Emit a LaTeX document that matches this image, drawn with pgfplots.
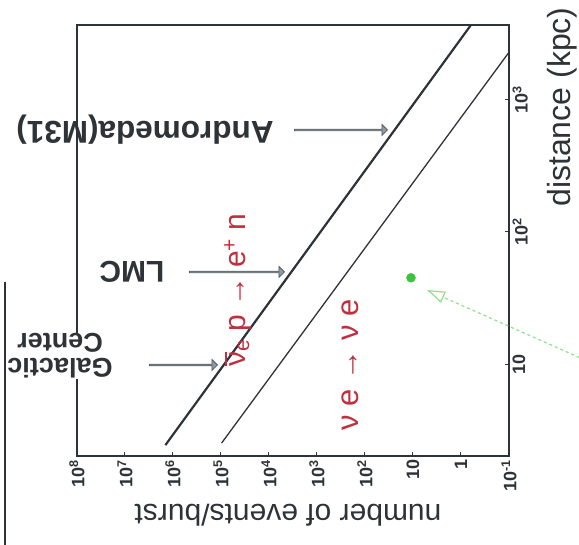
\documentclass[border=0pt]{standalone}
\usepackage{fontspec}
\setmainfont{Liberation Sans}
\usepackage{pgfplots}
\pgfplotsset{compat=1.18}
\usetikzlibrary{shapes.arrows, arrows.meta}

\definecolor{ink}{HTML}{2E3338}
\definecolor{redlbl}{HTML}{C0303C}
\definecolor{arrowfill}{HTML}{8C9AA4}
\definecolor{sngreen}{HTML}{3CC43C}
\definecolor{ptgreen}{HTML}{8EE08E}

\newcommand{\nubar}{\makebox[0pt][l]{\hspace{0.03em}\raisebox{0.62em}{\rule{0.45em}{0.05em}}}ν}

\begin{document}
\begin{tikzpicture}
\useasboundingbox (0,0) rectangle (579pt,545pt);

% stray frame edge on the left
\draw[ink, line width=2.5pt] (5pt,0pt) -- (5pt,263pt);

\begin{axis}[
  at={(77pt,89pt)}, anchor=south west,
  scale only axis, width=432pt, height=431pt,
  xmode=log, ymode=log, x dir=reverse,
  xmin=0.1, xmax=1e8, ymin=2.01, ymax=3700,
  axis line style={draw=ink, line width=1.8pt},
  tick style={ink, line width=1pt}, major tick length=4pt,
  minor tick style={draw=none},
  xtick pos=bottom, ytick pos=right,
  xtick={0.1,1,10,100,1000,10000,100000,1000000,10000000,100000000},
  xticklabels={10\textsuperscript{-1},1,10,10\textsuperscript{2},10\textsuperscript{3},10\textsuperscript{4},10\textsuperscript{5},10\textsuperscript{6},10\textsuperscript{7},10\textsuperscript{8}},
  ytick={10,100,1000},
  yticklabels={10,10\textsuperscript{2},10\textsuperscript{3}},
  yticklabel pos=right,
  xticklabel style={rotate=90, anchor=east, font=\bfseries\fontsize{18}{18}\selectfont, text=ink},
  yticklabel style={rotate=90, anchor=north, font=\bfseries\fontsize{18}{18}\selectfont, text=ink},
]
% anti-neutrino capture on protons
\addplot[ink, line width=2.2pt] coordinates {(1.44e6,2.43) (0.62,3700)};
% neutrino-electron scattering
\addplot[ink, line width=1.3pt] coordinates {(9.7e4,2.52) (0.1,2300)};
% SN1987A
\addplot[only marks, mark=*, mark size=4.5pt, sngreen] coordinates {(11,45)};
\end{axis}

% axis titles
\node[rotate=180, text=ink, font=\fontsize{30}{32}\selectfont] at (288pt,30pt) {number of events/burst};
\node[rotate=90, text=ink, font=\fontsize{32}{34}\selectfont] at (562pt,438pt) {distance (kpc)};

% reaction labels
\node[rotate=90, text=redlbl, font=\fontsize{30}{32}\selectfont] at (238pt,255pt) {\nubar\textsubscript{e} p → e\textsuperscript{+} n};
\node[rotate=90, text=redlbl, font=\fontsize{31}{33}\selectfont] at (350pt,180pt) {ν e → ν e};

% source labels with block arrows
\node[rotate=180, text=ink, font=\bfseries\fontsize{31.5}{33}\selectfont] at (145pt,415pt) {Andromeda(M31)};
\node[rotate=180, text=ink, font=\bfseries\fontsize{30}{32}\selectfont] at (132pt,273pt) {LMC};
\node[rotate=180, text=ink, fill=white, inner sep=1pt, align=center, font=\bfseries\fontsize{27}{25}\selectfont] at (60pt,189pt) {Galactic\\Center};

\node[single arrow, draw=ink!80, fill=arrowfill, line width=0.8pt, minimum height=93pt, minimum width=11pt, single arrow head extend=2.5pt, inner sep=0pt, anchor=tip] at (388pt,415pt) {};
\node[single arrow, draw=ink!80, fill=arrowfill, line width=0.8pt, minimum height=95pt, minimum width=11pt, single arrow head extend=2.5pt, inner sep=0pt, anchor=tip] at (285pt,273pt) {};
\node[single arrow, draw=ink!80, fill=arrowfill, line width=0.8pt, minimum height=68pt, minimum width=11pt, single arrow head extend=2.5pt, inner sep=0pt, anchor=tip] at (218pt,180pt) {};

% pointer to the SN1987A point
\draw[ptgreen, dashed, line width=1.2pt, -{Triangle[open, length=18pt, width=12pt]}] (585pt,185pt) -- (427pt,255pt);
\end{tikzpicture}
\end{document}
